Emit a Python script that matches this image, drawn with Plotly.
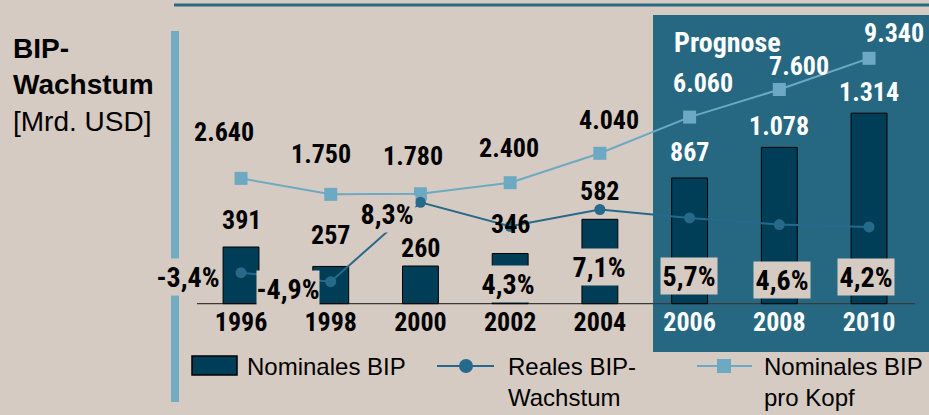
import plotly.graph_objects as go

# ---------------- data ----------------
years = [1996, 1998, 2000, 2002, 2004, 2006, 2008, 2010]
nominal_gdp = [391, 257, 260, 346, 582, 867, 1078, 1314]          # Mrd. USD
real_growth = [-3.4, -4.9, 8.3, 4.3, 7.1, 5.7, 4.6, 4.2]           # %
gdp_per_capita = [2640, 1750, 1780, 2400, 4040, 6060, 7600, 9340]  # USD
forecast_start = 2006
legend_labels = ["Nominales BIP", "Reales BIP-<br>Wachstum", "Nominales BIP<br>pro Kopf"]
title_text = "<b>BIP-<br>Wachstum</b><br>[Mrd. USD]"
forecast_text = "Prognose"

# ---------------- style ----------------
W, H = 929, 415
BG = "#D6CBC2"
BAR = "#003D56"
GROWTH = "#27698A"
PERCAP = "#6DA9C2"
BOX = "#266882"
LEFTBAR = "#72ACC4"
TOPLINE = "#2A6A84"
NARROW = "Roboto Condensed, Liberation Sans, Arial, sans-serif"
SANS = "Liberation Sans, Arial, sans-serif"
LAB = 26
PCT = 28

def fx(p):  # pixel -> paper x
    return p / W

def fy(p):  # pixel -> paper y
    return 1 - p / H

def de_num(v):
    return f"{v:,}".replace(",", ".")

def de_pct(v):
    return f"{v:.1f}%".replace(".", ",")

# label offsets (pixels)
bar_lab_dy = [27, 31, 18, 30, 28, 26, 21, 21]
pc_lab_dx = [-17, -10, -7, -1, 9, 13, 20, 25]
pc_lab_dy = [46, 40, 38, 35, 33, 34, 24, 25]
gr_lab_dx = [-53, -43, -33, -2, -1, -1, 3, -3]
gr_lab_dy = [-4, -7, -12, -58, -58, -58, -55, -50]
gr_box_w = [62, 62, 56, 56, 56, 56, 56, 56]

fig = go.Figure()
fig.add_trace(go.Bar(x=years, y=nominal_gdp, width=0.8, yaxis="y",
                     marker=dict(color=BAR, line=dict(color="#000000", width=1)),
                     name="Nominales BIP", showlegend=False))
fig.add_trace(go.Scatter(x=years, y=gdp_per_capita, yaxis="y2", mode="lines+markers",
                         line=dict(color=PERCAP, width=2),
                         marker=dict(symbol="square", size=13, color=PERCAP),
                         name="Nominales BIP pro Kopf", showlegend=False))
fig.add_trace(go.Scatter(x=years, y=real_growth, yaxis="y3", mode="lines+markers",
                         line=dict(color=GROWTH, width=2),
                         marker=dict(symbol="circle", size=11, color=GROWTH),
                         name="Reales BIP-Wachstum", showlegend=False))

ann = []
for i, (yr, v) in enumerate(zip(years, nominal_gdp)):
    col = "white" if yr >= forecast_start else "black"
    ann.append(dict(x=yr, y=v, xref="x", yref="y", text=de_num(v), showarrow=False,
                    yshift=bar_lab_dy[i], yanchor="middle",
                    font=dict(family=NARROW, size=LAB, color=col, weight="bold")))
for i, (yr, v) in enumerate(zip(years, gdp_per_capita)):
    col = "white" if yr >= forecast_start else "black"
    ann.append(dict(x=yr, y=v, xref="x", yref="y2", text=de_num(v), showarrow=False,
                    xshift=pc_lab_dx[i], yshift=pc_lab_dy[i], yanchor="middle",
                    font=dict(family=NARROW, size=LAB, color=col, weight="bold")))
for i, (yr, v) in enumerate(zip(years, real_growth)):
    ann.append(dict(x=yr, y=v, xref="x", yref="y3", text=de_pct(v), showarrow=False,
                    xshift=gr_lab_dx[i], yshift=gr_lab_dy[i], yanchor="middle",
                    bgcolor=BG, borderpad=0, height=36, width=gr_box_w[i],
                    font=dict(family=NARROW, size=PCT, color="black", weight="bold")))

# title, forecast label
ann.append(dict(x=fx(11), y=fy(31), xref="paper", yref="paper", text=title_text,
                showarrow=False, xanchor="left", yanchor="top", align="left",
                font=dict(family=SANS, size=28, color="black")))
ann.append(dict(x=fx(727), y=fy(42), xref="paper", yref="paper", text=forecast_text,
                showarrow=False, xanchor="center", yanchor="middle",
                font=dict(family=NARROW, size=28, color="white", weight="bold")))

# legend texts
leg_x = [245, 506, 762]
for lx, lt in zip(leg_x, legend_labels):
    ann.append(dict(x=fx(lx), y=fy(351), xref="paper", yref="paper", text=lt,
                    showarrow=False, xanchor="left", yanchor="top", align="left",
                    font=dict(family=SANS, size=24, color="black")))

shapes = [
    # forecast box
    dict(type="rect", xref="paper", yref="paper", x0=fx(653), x1=fx(929), y0=fy(15), y1=fy(352),
         fillcolor=BOX, line=dict(width=0), layer="below"),
    # left decorative bar
    dict(type="rect", xref="paper", yref="paper", x0=fx(171), x1=fx(179), y0=fy(31), y1=fy(402),
         fillcolor=LEFTBAR, line=dict(width=0), layer="below"),
    # top line
    dict(type="line", xref="paper", yref="paper", x0=fx(174), x1=fx(929), y0=fy(5), y1=fy(5),
         line=dict(color=TOPLINE, width=3), layer="below"),
    # baseline
    dict(type="line", xref="paper", yref="y", x0=fx(197), x1=fx(915), y0=0, y1=0,
         line=dict(color="#3a3a3a", width=1.2), layer="below"),
    # legend symbols
    dict(type="rect", xref="paper", yref="paper", x0=fx(192), x1=fx(237), y0=fy(356), y1=fy(375),
         fillcolor=BAR, line=dict(color="black", width=1.5)),
    dict(type="line", xref="paper", yref="paper", x0=fx(437), x1=fx(494), y0=fy(366), y1=fy(366),
         line=dict(color=GROWTH, width=2)),
    dict(type="circle", xref="paper", yref="paper", x0=fx(459), x1=fx(473), y0=fy(359), y1=fy(373),
         fillcolor=GROWTH, line=dict(color=GROWTH, width=0)),
    dict(type="line", xref="paper", yref="paper", x0=fx(697), x1=fx(752), y0=fy(366), y1=fy(366),
         line=dict(color=PERCAP, width=2)),
    dict(type="rect", xref="paper", yref="paper", x0=fx(717), x1=fx(731), y0=fy(359), y1=fy(373),
         fillcolor=PERCAP, line=dict(color=PERCAP, width=0)),
]

ticktext = [f"<span style='color:white'>{y}</span>" if y >= forecast_start else str(y) for y in years]

base_px = 303.7
fig.update_layout(
    width=W, height=H, autosize=False,
    margin=dict(l=0, r=0, t=0, b=0),
    paper_bgcolor=BG, plot_bgcolor="rgba(0,0,0,0)",
    showlegend=False,
    xaxis=dict(range=[1990.627, 2011.337], anchor="free", position=(H - base_px) / H,
               tickvals=years, ticktext=ticktext, showgrid=False, zeroline=False,
               showline=False, ticks="", ticklabelstandoff=0,
               tickfont=dict(family=NARROW, size=LAB, color="black", weight="bold")),
    yaxis=dict(range=[-(H - base_px) / 0.145, base_px / 0.145], visible=False, showgrid=False),
    yaxis2=dict(range=[-(H - 225.7) / 0.01792, 225.7 / 0.01792], overlaying="y",
                visible=False, showgrid=False),
    yaxis3=dict(range=[-(H - 252.2) / 6.015, 252.2 / 6.015], overlaying="y",
                visible=False, showgrid=False),
    annotations=ann, shapes=shapes,
)

fig.write_html("out.html", config={"displayModeBar": False},
               post_script="document.body.style.margin='0px';document.body.style.overflow='hidden';")
